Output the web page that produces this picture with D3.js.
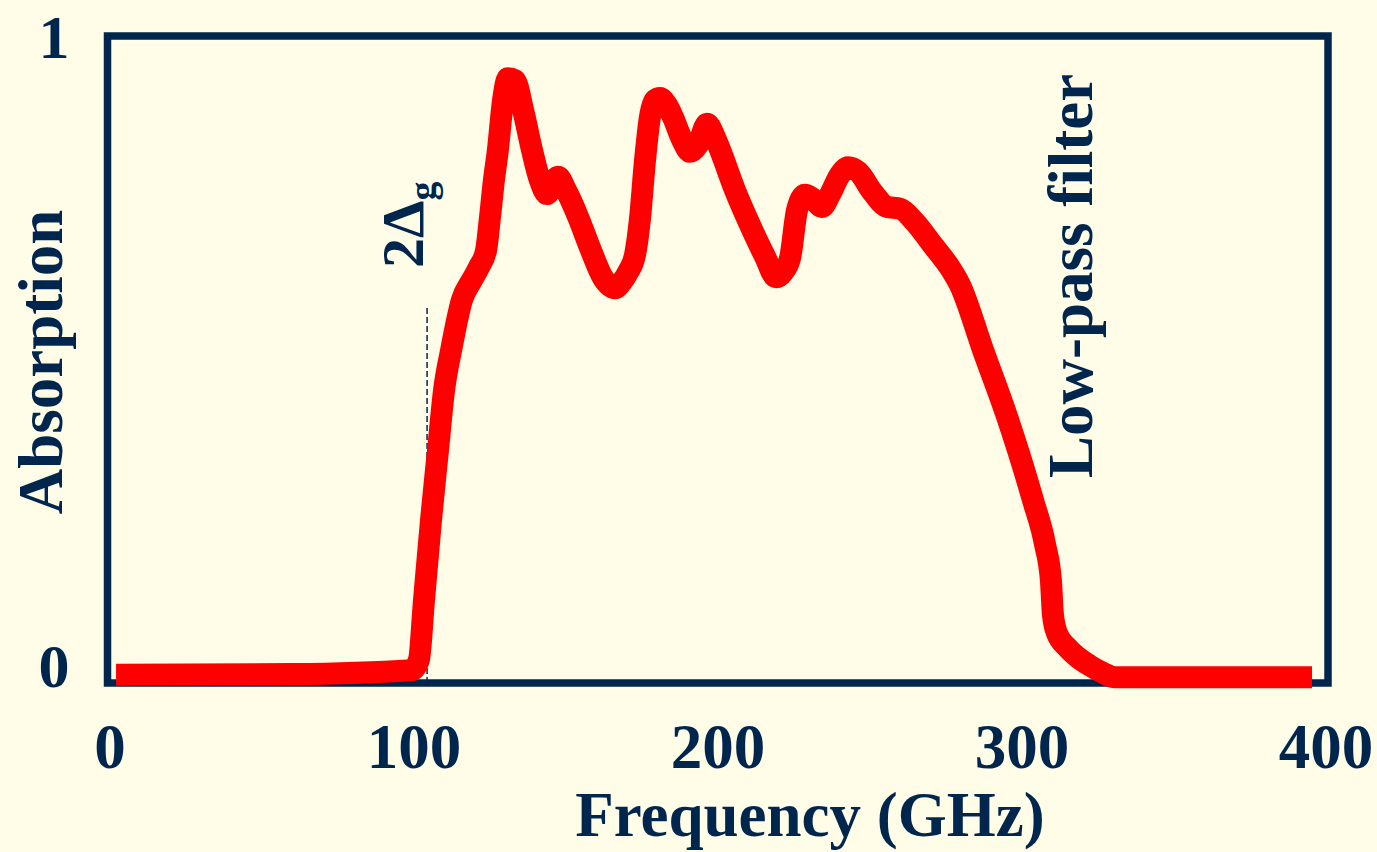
<!DOCTYPE html>
<html lang="en">
<head>
    <meta charset="UTF-8">
    <title>Absorption vs Frequency</title>
    <style>
        html, body {
            margin: 0;
            padding: 0;
            background: #fffde8;
        }
        svg text {
            font-family: 'Liberation Serif', 'Times New Roman', serif;
            font-weight: bold;
            fill: #00264d;
        }
    </style>
</head>
<body>
    <svg id="chart" width="1377" height="852"></svg>

    <script src="https://d3js.org/d3.v7.min.js"></script>
    <script>
        // Data
        const freq = [2, 60, 99.3, 101.6, 103.3, 105.6, 107.9, 109.9, 112.2, 115.8, 119, 121.4, 123.7,
            125, 126.3, 127.6, 129.3, 130.9, 133.2, 135.9, 138.8, 141.4, 143.8, 145.4, 147.4,
            150, 154, 157.9, 162.2, 166.1, 168.4, 170.4, 172.7, 174.3, 176, 177.6, 179.3,
            180.9, 183.2, 185.2, 188.2, 190.8, 193.4, 196.4, 198.7, 200.7, 205.6, 210.5, 215.5,
            219.1, 221.4, 223.7, 226, 228.6, 230.9, 234.2, 236.8, 240.1, 242.8, 246.1, 251,
            255.6, 259.9, 264.8, 270.7, 276.3, 279.6, 287.2, 295.1, 303.6, 307.6, 309.5, 310.2,
            311.5, 314.8, 318.1, 322.4, 326.6, 330.6, 334, 395.4];
        const absorption = [0.002, 0.003, 0.009, 0.025, 0.119, 0.244, 0.353, 0.447, 0.509, 0.588, 0.618, 0.639, 0.665,
            0.717, 0.775, 0.822, 0.9, 0.934, 0.931, 0.884, 0.822, 0.775, 0.753, 0.767, 0.78,
            0.759, 0.717, 0.669, 0.622, 0.606, 0.616, 0.631, 0.658, 0.713, 0.806, 0.873, 0.9,
            0.903, 0.892, 0.873, 0.838, 0.819, 0.83, 0.863, 0.845, 0.822, 0.759, 0.705, 0.655,
            0.623, 0.631, 0.653, 0.728, 0.752, 0.747, 0.733, 0.752, 0.783, 0.795, 0.788, 0.755,
            0.733, 0.73, 0.709, 0.673, 0.638, 0.611, 0.509, 0.405, 0.275, 0.205, 0.15, 0.095,
            0.067, 0.045, 0.03, 0.016, 0.005, -0.002, -0.002, -0.002];
        const xTicks = [0, 100, 200, 300, 400];
        const yTicks = [0, 1];
        const gapFreq = 104.3;      // 2Δg marker
        const gapTop = 0.575;

        const navy = '#00264d';
        const svg = d3.select('#chart');

        const x = d3.scaleLinear().domain([0, 400]).range([110, 1326]);
        const y = d3.scaleLinear().domain([0, 1]).range([676, 36]);
        // baselines of the y tick labels
        const yLabel = d3.scaleLinear().domain([0, 1]).range([687, 58]);

        // frame
        svg.append('rect')
            .attr('x', 107.5)
            .attr('y', 36)
            .attr('width', 1220.5)
            .attr('height', 647)
            .attr('fill', 'none')
            .attr('stroke', navy)
            .attr('stroke-width', 7.5);

        // dashed marker line at the gap
        svg.append('line')
            .attr('x1', x(gapFreq))
            .attr('x2', x(gapFreq))
            .attr('y1', y(gapTop))
            .attr('y2', 683)
            .attr('stroke', navy)
            .attr('stroke-width', 1.5)
            .attr('stroke-dasharray', '6,3');

        // absorption curve
        const points = freq.map((f, i) => [f, absorption[i]]);
        const line = d3.line()
            .x(d => x(d[0]))
            .y(d => y(d[1]))
            .curve(d3.curveMonotoneX);

        svg.append('path')
            .datum(points)
            .attr('d', line)
            .attr('fill', 'none')
            .attr('stroke', '#ff0000')
            .attr('stroke-width', 22)
            .attr('stroke-linejoin', 'round')
            .attr('stroke-linecap', 'butt');

        // tick labels
        svg.selectAll('.xtick')
            .data(xTicks)
            .enter()
            .append('text')
            .attr('class', 'xtick')
            .attr('x', d => x(d))
            .attr('y', 768)
            .attr('text-anchor', 'middle')
            .style('font-size', '63px')
            .text(d => d);

        svg.selectAll('.ytick')
            .data(yTicks)
            .enter()
            .append('text')
            .attr('class', 'ytick')
            .attr('x', 54)
            .attr('y', d => yLabel(d))
            .attr('text-anchor', 'middle')
            .style('font-size', '62px')
            .text(d => d);

        // axis titles
        svg.append('text')
            .attr('x', 810)
            .attr('y', 836)
            .attr('text-anchor', 'middle')
            .style('font-size', '63px')
            .text('Frequency (GHz)');

        svg.append('text')
            .attr('transform', 'translate(62,362) rotate(-90)')
            .attr('text-anchor', 'middle')
            .style('font-size', '63px')
            .text('Absorption');

        svg.append('text')
            .attr('transform', 'translate(1092,276) rotate(-90)')
            .attr('text-anchor', 'middle')
            .style('font-size', '63px')
            .text('Low-pass filter');

        // 2Δg label
        const gap = svg.append('text')
            .attr('transform', 'translate(423,268) rotate(-90)')
            .style('font-size', '60px');
        gap.append('tspan').text('2Δ');
        gap.append('tspan')
            .attr('dy', 12)
            .style('font-size', '38px')
            .text('g');
    </script>
</body>
</html>
